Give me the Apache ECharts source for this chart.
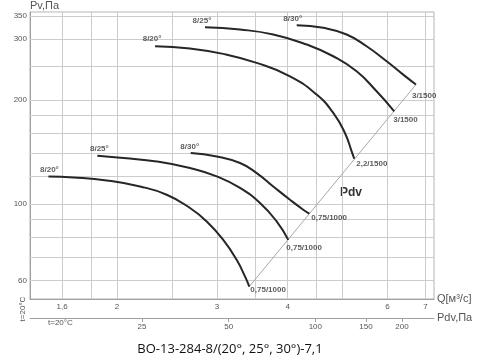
<!DOCTYPE html>
<html><head><meta charset="utf-8">
<script src="https://cdn.jsdelivr.net/npm/echarts@6/dist/echarts.min.js"></script>
<style>html,body{margin:0;padding:0;background:#fff}#c{width:500px;height:360px}</style>
</head><body><div id="c"></div>
<script>
// Q [м³/с] and Pv [Па]
const up20Q = [2.334, 2.690, 3.079, 3.527, 4.038, 4.500, 4.814, 5.048, 5.188, 5.243];
const up20P = [285.7, 281.3, 271.6, 255.7, 233.9, 207.0, 183.2, 160.3, 141.8, 135.0];
const up25Q = [2.859, 3.296, 3.773, 4.322, 4.814, 5.294, 5.742, 6.168];
const up25P = [324.3, 319.4, 309.0, 289.0, 267.3, 241.8, 211.6, 185.2];
const up30Q = [4.150, 4.624, 5.083, 5.513, 5.981, 6.397, 6.737];
const up30P = [328.8, 323.1, 309.0, 285.7, 258.5, 236.5, 221.3];
const lo20Q = [1.513, 1.675, 1.918, 2.196, 2.447, 2.690, 2.879, 3.079, 3.251, 3.363, 3.423];
const lo20P = [120.0, 119.2, 116.8, 112.2, 106.2, 97.2, 88.9, 78.6, 68.8, 61.6, 57.6];
const lo25Q = [1.846, 2.052, 2.350, 2.690, 2.999, 3.296, 3.575, 3.825, 4.010];
const lo25P = [137.8, 135.6, 132.6, 126.9, 120.0, 111.1, 100.5, 88.9, 78.6];
const lo30Q = [2.698, 2.999, 3.296, 3.527, 3.773, 4.038, 4.262, 4.369];
const lo30P = [140.3, 137.1, 131.2, 122.7, 112.2, 102.7, 96.1, 93.6];

const curveNames = ['8/20°', '8/25°', '8/30°', '8/20°', '8/25°', '8/30°'];
const endNames = ['2,2/1500', '3/1500', '3/1500', '0,75/1000', '0,75/1000', '0,75/1000'];

const qGrid = [1.6, 1.8, 2, 2.5, 3, 3.5, 4, 4.5, 5, 6, 7];
const qLabels = [1.6, 2, 3, 4, 6, 7];
const pGrid = [60, 70, 80, 90, 100, 120, 140, 160, 180, 200, 250, 300, 350];
const pLabels = [60, 100, 200, 300, 350];
const pdvLabels = [25, 50, 100, 150, 200];

const qRange = [1.404, 7.25];
const pRange = [53, 359];
const pdvRange = [10.21, 258.3];

const curves = [[up20Q, up20P], [up25Q, up25P], [up30Q, up30P], [lo20Q, lo20P], [lo25Q, lo25P], [lo30Q, lo30P]];
const startOff = [[-3, -7], [-3, -6], [-4, -6], [1, -7], [2, -7], [-1, -6]];
const endOff = [[2, 5], [-1, 8], [-4, 11], [1, 3], [-2, 8], [2, 4]];

const fmt = v => String(v).replace('.', ',');
const lowEnd = [lo20Q[lo20Q.length - 1], lo20P[lo20P.length - 1]];
const highEnd = [up30Q[up30Q.length - 1], up30P[up30P.length - 1]];

const labelData = [];
curves.forEach(([q, p], i) => {
  labelData.push({ value: [q[0], p[0]], label: { formatter: curveNames[i], offset: startOff[i], align: 'center' } });
  const n = q.length - 1;
  labelData.push({ value: [q[n], p[n]], label: { formatter: endNames[i], offset: endOff[i], align: 'left' } });
});

const gridLineStyle = { color: '#cccccc', width: 1, type: 'solid' };
const chart = echarts.init(document.getElementById('c'), null, { renderer: 'canvas' });
const axisFont = { color: '#555', fontSize: 8, fontFamily: 'Liberation Sans, Arial, sans-serif' };

chart.setOption({
  animation: false,
  backgroundColor: '#fff',
  grid: { left: 30, top: 12, width: 404, height: 287, show: true, borderColor: '#b5b5b5', borderWidth: 1, backgroundColor: 'transparent' },
  xAxis: [{
    type: 'log', logBase: 10, min: qRange[0], max: qRange[1],
    name: 'Q[м³/с]', nameLocation: 'end', nameGap: 3,
    nameTextStyle: { color: '#555', fontSize: 11, fontFamily: 'Liberation Sans, Arial, sans-serif', align: 'left', verticalAlign: 'middle', padding: [0, 0, 8, 0] },
    axisLine: { show: true, lineStyle: { color: '#a0a0a0', width: 1 } },
    axisTick: { show: false },
    splitLine: { show: false },
    axisLabel: { ...axisFont, margin: 4, customValues: qLabels, formatter: fmt }
  }, {
    type: 'log', logBase: 10, min: pdvRange[0], max: pdvRange[1], position: 'bottom', offset: 19,
    name: 'Pdv,Па', nameLocation: 'end', nameGap: 3,
    nameTextStyle: { color: '#555', fontSize: 11, fontFamily: 'Liberation Sans, Arial, sans-serif', align: 'left', verticalAlign: 'middle', padding: [0, 0, -8, 0] },
    axisLine: { show: true, onZero: false, lineStyle: { color: '#a0a0a0', width: 1 } },
    axisTick: { show: true, length: 4, customValues: pdvLabels, lineStyle: { color: '#a0a0a0' } },
    splitLine: { show: false },
    axisLabel: { ...axisFont, margin: 5, customValues: pdvLabels, formatter: fmt }
  }],
  yAxis: [{
    type: 'log', logBase: 10, min: pRange[0], max: pRange[1],
    name: 'Pv,Па', nameLocation: 'end', nameGap: 1,
    nameTextStyle: { color: '#555', fontSize: 11, fontFamily: 'Liberation Sans, Arial, sans-serif', align: 'left', verticalAlign: 'bottom' },
    axisLine: { show: true, lineStyle: { color: '#a0a0a0', width: 1 } },
    axisTick: { show: false },
    splitLine: { show: false },
    axisLabel: { ...axisFont, margin: 3, customValues: pLabels, formatter: fmt }
  }],
  series: [
    {
      type: 'line', name: 'Pdv', data: [lowEnd, highEnd], showSymbol: false, silent: true, z: 2,
      lineStyle: { color: '#a8a8a8', width: 1 },
      markLine: {
        silent: true, symbol: ['none', 'none'], label: { show: false }, lineStyle: gridLineStyle, z: 1,
        data: qGrid.map(v => ({ xAxis: v })).concat(pGrid.map(v => ({ yAxis: v })))
      }
    },
    ...curves.map(([q, p]) => ({
      type: 'line', data: q.map((v, i) => [v, p[i]]), smooth: 0.5, showSymbol: false, silent: true, z: 3,
      lineStyle: { color: '#262626', width: 2 }
    })),
    {
      type: 'scatter', data: labelData, symbolSize: 1, silent: true, z: 4,
      itemStyle: { color: 'rgba(0,0,0,0)' },
      label: { show: true, position: 'inside', color: '#333', fontSize: 8, fontWeight: 'bold', fontFamily: 'Liberation Sans, Arial, sans-serif', verticalAlign: 'middle' }
    }
  ],
  graphic: [
    { type: 'text', left: 340, top: 187, style: { text: 'Pdv', fill: '#333', font: 'bold 12px "Liberation Sans", Arial, sans-serif' } },
    { type: 'text', x: 230, y: 349, style: { text: 'ВО-13-284-8/(20°, 25°, 30°)-7,1', fill: '#111', font: '13px "Open Sans", "Noto Sans", sans-serif', textAlign: 'center', textVerticalAlign: 'middle' } },
    { type: 'text', x: 23, y: 309, rotation: Math.PI / 2, style: { text: 't=20°C', fill: '#555', font: '8px "Liberation Sans", Arial, sans-serif', textAlign: 'center', textVerticalAlign: 'middle' } },
    { type: 'text', x: 48, y: 323, style: { text: 't=20°C', fill: '#555', font: '8px "Liberation Sans", Arial, sans-serif', textAlign: 'left', textVerticalAlign: 'middle' } }
  ]
});
</script></body></html>
